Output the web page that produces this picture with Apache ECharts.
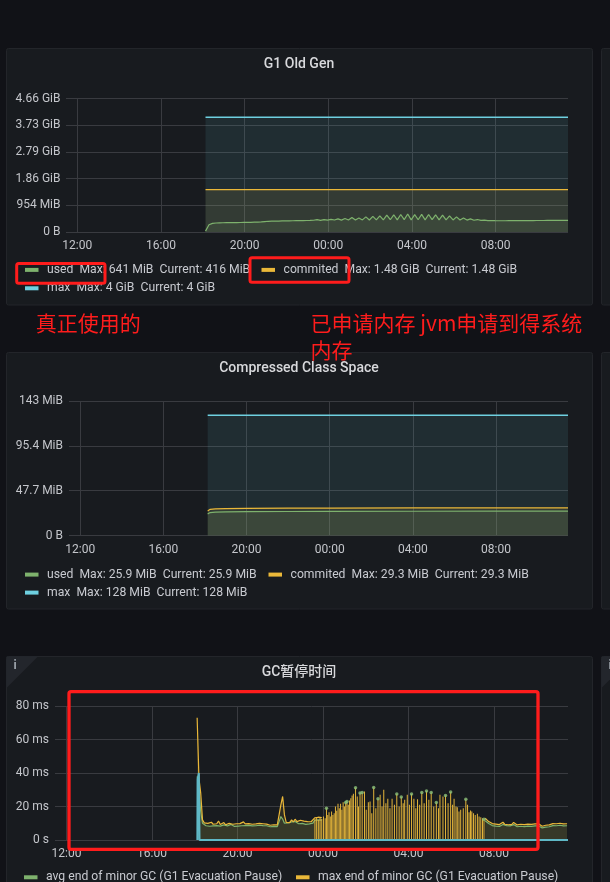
<!DOCTYPE html>
<html><head><meta charset="utf-8">
<script src="https://cdn.jsdelivr.net/npm/echarts@6/dist/echarts.min.js"></script>
<style>html,body{margin:0;padding:0;background:#111217;}#c{width:610px;height:882px;}</style>
</head><body><div id="c"></div><script>
// ================= DATA =================
// x axis: hours counted from 12:00 of the first day
const timeTickHours = [0, 4, 8, 12, 16, 20];
const timeTickLabels = ['12:00', '16:00', '20:00', '00:00', '04:00', '08:00'];
const windowStartH = -0.54, windowEndH = 23.46;

// ---- G1 Old Gen (MiB) ----
const oldGenTickLabels = ['0 B', '954 MiB', '1.86 GiB', '2.79 GiB', '3.73 GiB', '4.66 GiB'];
const oldGenUsedStartH = 6.13;          // 18:08
const oldGenUsedStepH = 1 / 6;          // 10 min
const oldGenUsedMiB = [
  30, 260, 310, 322, 327, 331,
  333, 335, 337, 338, 340, 342,
  344, 347, 350, 353, 360, 372,
  383, 386, 389, 391, 394, 397,
  400, 402, 404, 406, 408, 410,
  414, 420, 440, 418, 445, 425,
  450, 428, 470, 425, 480, 430,
  520, 428, 500, 432, 540, 430,
  560, 435, 575, 430, 600, 438,
  615, 432, 625, 440, 641, 435,
  620, 438, 630, 432, 625, 440,
  615, 436, 600, 432, 580, 430,
  540, 428, 500, 425, 470, 420,
  445, 415, 425, 408, 410, 403,
  402, 401, 402, 403, 404, 405,
  406, 406, 407, 408, 409, 410,
  410, 411, 412, 413, 414, 414,
  415, 416, 416
];
const oldGenCommittedHours = [6.13, 23.46];
const oldGenCommittedMiB = [1515.5, 1515.5];
const oldGenMaxHours = [6.13, 23.46];
const oldGenMaxMiB = [4096, 4096];
const oldGenLegend = [
  'used  Max: 641 MiB  Current: 416 MiB',
  'commited  Max: 1.48 GiB  Current: 1.48 GiB',
  'max  Max: 4 GiB  Current: 4 GiB'
];

// ---- Compressed Class Space (MiB) ----
const ccsTickLabels = ['0 B', '47.7 MiB', '95.4 MiB', '143 MiB'];
const ccsHours = [6.13, 6.25, 6.5, 7, 8, 10, 12, 16, 20, 23.46];
const ccsUsedMiB = [23.0, 24.4, 24.8, 25.1, 25.3, 25.5, 25.6, 25.8, 25.9, 25.9];
const ccsCommittedMiB = [26.0, 27.8, 28.3, 28.6, 28.9, 29.1, 29.2, 29.3, 29.3, 29.3];
const ccsMaxHours = [6.13, 23.46];
const ccsMaxMiB = [128, 128];
const ccsLegend = [
  'used  Max: 25.9 MiB  Current: 25.9 MiB',
  'commited  Max: 29.3 MiB  Current: 29.3 MiB',
  'max  Max: 128 MiB  Current: 128 MiB'
];

// ---- GC pause (ms) ----
const gcTickLabels = ['0 s', '20 ms', '40 ms', '60 ms', '80 ms'];
const gcHeadStartH = 6.11;              // 18:06
const gcStepH = 1 / 12;                 // 5 min
const gcMaxHead = [
  73, 37, 28, 12, 10.2, 9.6, 9.9, 9.1, 10.6, 9.4, 9.0,
  9.7, 11.3, 9.3, 9.8, 10.4, 9.1, 9.5, 9.9, 10.7, 9.4, 9.0, 9.7,
  9.3, 9.8, 9.5, 10.8, 9.6, 9.2, 9.8, 10.2, 9.4, 8.9, 9.6, 9.3,
  9.9, 9.2, 9.7, 9.0, 9.5, 9.8, 8.8, 9.4, 9.1, 9.6, 9.0, 9.8,
  21, 26, 15, 10.5, 11.4, 10.4, 12.0, 10.8, 12.4, 11.0, 10.6, 11.8,
  10.9, 11.3, 10.2, 11.0, 10.5, 10.9, 11.2, 13.2, 13.0, 13.6, 12.8, 13.4
];
const gcAvgHead = [
  38, 30, 17, 10, 9.0, 8.5, 8.8, 8.2, 9.2, 8.4, 8.1,
  8.6, 9.6, 8.3, 8.7, 9.0, 8.2, 8.4, 8.8, 9.3, 8.4, 8.1, 8.6,
  8.3, 8.7, 8.5, 9.4, 8.6, 8.2, 8.7, 9.0, 8.4, 8.0, 8.5, 8.3,
  8.8, 8.2, 8.6, 8.1, 8.5, 8.7, 7.9, 8.4, 8.1, 8.5, 8.0, 8.7,
  14, 12.5, 10, 9.6, 10.2, 9.5, 10.8, 9.8, 11.0, 10.0, 9.7, 10.6,
  9.9, 10.2, 9.3, 10.0, 9.6, 9.9, 10.1, 11.8, 11.5, 12.0, 11.4, 11.9
];
const gcTailStartH = 19.5833;           // 07:35
const gcMaxTail = [
  13.0, 12.2, 11.0, 10.3, 9.8,
  10.4, 9.5, 9.9, 9.2, 9.7, 10.6, 9.4, 9.8, 9.1, 9.6, 9.3, 10.5,
  9.5, 9.0, 9.7, 9.4, 9.9, 9.2, 8.6, 9.5, 9.8, 9.3, 10.4, 9.6,
  9.1, 9.7, 9.4, 8.2, 8.4, 8.8, 9.3, 9.0, 9.5, 9.8, 10.5, 9.7,
  9.4, 10.0, 9.8, 9.6, 10.3, 9.7
];
const gcAvgTail = [
  11.5, 10.6, 9.8, 9.0, 8.6,
  9.0, 8.3, 8.7, 8.1, 8.5, 9.3, 8.2, 8.6, 8.0, 8.4, 8.1, 9.2,
  8.3, 7.9, 8.5, 8.2, 8.7, 8.0, 7.5, 8.3, 8.6, 8.1, 9.1, 8.4,
  8.0, 8.5, 8.2, 7.2, 7.4, 7.7, 8.1, 7.9, 8.3, 8.6, 9.2, 8.5,
  8.2, 8.8, 8.6, 8.4, 9.0, 8.5
];
const gcSpikeHours = [
  11.62, 11.70, 11.78, 11.86, 11.94, 12.02, 12.10, 12.16, 12.22, 12.28, 12.34, 12.40,
  12.46, 12.52, 12.58, 12.64, 12.70, 12.76, 12.82, 12.88, 12.94, 13.00, 13.06, 13.12,
  13.18, 13.24, 13.30, 13.36, 13.42, 13.52, 13.60, 13.66, 13.73, 13.83, 13.94, 14.02,
  14.12, 14.20, 14.28, 14.37, 14.47, 14.57, 14.67, 14.76, 14.84, 14.94, 15.03, 15.13,
  15.23, 15.34, 15.45, 15.56, 15.66, 15.75, 15.82, 15.94, 16.04, 16.14, 16.25, 16.34,
  16.42, 16.52, 16.62, 16.73, 16.84, 16.95, 17.06, 17.18, 17.30, 17.40, 17.47, 17.61,
  17.73, 17.85, 17.97, 18.06, 18.13, 18.22, 18.28, 18.36, 18.44, 18.56, 18.68, 18.76,
  18.83, 18.90, 18.96, 19.04, 19.12, 19.22, 19.30, 19.38, 19.46, 19.53
];
const gcSpikeMax = [
  12.5, 13.5, 12, 13.8, 12.6, 14, 13, 19, 15, 16.5, 14, 17,
  15, 16, 20, 17.5, 21.6, 19, 21.6, 18, 22.6, 20, 22.4, 23,
  21, 23.6, 25, 26.5, 27.6, 31.2, 26, 20, 28, 28.4, 29, 18,
  22.5, 23, 16, 31.4, 19, 24.6, 27, 20, 30, 22, 24.6, 19,
  24.6, 21, 27.4, 20, 25.6, 22, 24, 27, 21, 27.4, 24.6, 19,
  24.4, 21, 28.4, 22, 29.2, 24, 28.4, 20, 22.4, 19, 27, 26,
  26.6, 22, 28.6, 21, 24.6, 20, 19.6, 17, 18, 19, 24.4, 21,
  16.6, 17.6, 17, 16, 15, 15.6, 14, 13.6, 13, 12.4
];
const gcAvgDotHours = [12.16, 13.06, 13.12, 13.52, 13.73, 13.83, 14.37, 14.57, 15.45, 15.66,
  16.14, 16.62, 16.84, 17.06, 17.30, 17.73, 17.97, 18.68, 19.53];
const gcAvgDotMs = [19, 22.4, 23, 31.2, 28, 28.4, 31.4, 24.6, 27.4, 25.6,
  27.4, 28.4, 29.2, 28.4, 22.4, 26.6, 28.6, 24.4, 12.4];
const gcOtherHours = [6.12, 6.13, 6.19, 6.22, 23.46];
const gcOtherMs = [0, 36, 40, 0, 0];
const gcLegend = [
  'avg end of minor GC (G1 Evacuation Pause)',
  'max end of minor GC (G1 Evacuation Pause)'
];

// ================= CHART =================
const MiB = 1048576;
const GREEN = '#7EB26D', YELLOW = '#EAB839', CYAN = '#6ED0E0';
const GRID_LINE = '#393b40', AXIS_TEXT = '#c4c6cb', LEGEND_TEXT = '#c8cad0';
const FONT = 'Roboto, "Noto Sans CJK SC", sans-serif';

function stepPairs(start, step, vals, k) { return vals.map((v, i) => [start + i * step, v * k]); }
function hourPairs(hours, vals, k) { return hours.map((h, i) => [h, vals[i] * k]); }

const grids = [
  { left: 66, top: 98.5, width: 502, height: 133.5 },
  { left: 69, top: 401, width: 499, height: 134.5 },
  { left: 55, top: 706, width: 513, height: 134 }
];
const labelMargins = [8, 8, 8];

const xAxes = grids.map((g, i) => ({
  type: 'value', gridIndex: i, min: windowStartH, max: windowEndH,
  axisLine: { show: false }, axisTick: { show: false, customValues: timeTickHours },
  axisLabel: {
    customValues: timeTickHours, margin: labelMargins[i], color: AXIS_TEXT, fontSize: 12, fontFamily: FONT,
    formatter: v => timeTickLabels[timeTickHours.indexOf(Math.round(v))]
  },
  splitLine: { show: true, lineStyle: { color: GRID_LINE, width: 1 } }
}));

function yAxis(gi, max, interval, labels, margin) {
  return {
    type: 'value', gridIndex: gi, min: 0, max: max, interval: interval,
    axisLine: { show: false }, axisTick: { show: false },
    axisLabel: { margin: margin, color: AXIS_TEXT, fontSize: 12, fontFamily: FONT,
      formatter: v => labels[Math.round(v / interval)] },
    splitLine: { show: true, lineStyle: { color: GRID_LINE, width: 1 } }
  };
}
const yAxes = [
  yAxis(0, 5e9, 1e9, oldGenTickLabels, 5.5),
  yAxis(1, 150e6, 50e6, ccsTickLabels, 6),
  yAxis(2, 80, 20, gcTickLabels, 6)
];

function line(name, idx, data, color, extra) {
  return Object.assign({
    name: name, type: 'line', xAxisIndex: idx, yAxisIndex: idx, data: data, color: color,
    showSymbol: false, symbol: 'none', lineStyle: { width: 1.2, color: color },
    areaStyle: { color: color, opacity: 0.1 }, connectNulls: false, z: 2
  }, extra || {});
}

const series = [
  line('used', 0, stepPairs(oldGenUsedStartH, oldGenUsedStepH, oldGenUsedMiB, MiB), GREEN),
  line('commited', 0, hourPairs(oldGenCommittedHours, oldGenCommittedMiB, MiB), YELLOW),
  line('max', 0, hourPairs(oldGenMaxHours, oldGenMaxMiB, MiB), CYAN, { lineStyle: { width: 1.5, color: CYAN } }),

  line('used', 1, hourPairs(ccsHours, ccsUsedMiB, MiB), GREEN),
  line('commited', 1, hourPairs(ccsHours, ccsCommittedMiB, MiB), YELLOW),
  line('max', 1, hourPairs(ccsMaxHours, ccsMaxMiB, MiB), CYAN, { lineStyle: { width: 1.5, color: CYAN } }),

  line(gcLegend[0], 2, stepPairs(gcHeadStartH, gcStepH, gcAvgHead, 1), GREEN),
  line(gcLegend[1], 2, stepPairs(gcHeadStartH, gcStepH, gcMaxHead, 1), YELLOW),
  line(gcLegend[0], 2, stepPairs(gcTailStartH, gcStepH, gcAvgTail, 1), GREEN),
  line(gcLegend[1], 2, stepPairs(gcTailStartH, gcStepH, gcMaxTail, 1), YELLOW),
  { name: gcLegend[1], type: 'bar', xAxisIndex: 2, yAxisIndex: 2, barWidth: 1, color: YELLOW,
    itemStyle: { color: '#e3b43a' }, data: hourPairs(gcSpikeHours, gcSpikeMax, 1), z: 3 },
  { name: gcLegend[0], type: 'scatter', xAxisIndex: 2, yAxisIndex: 2, symbolSize: 3.5, color: GREEN,
    itemStyle: { color: '#8cc27a' }, data: hourPairs(gcAvgDotHours, gcAvgDotMs, 1), z: 4 },
  line('other GC pause', 2, hourPairs(gcOtherHours, gcOtherMs, 1), CYAN,
    { lineStyle: { width: 2, color: '#5fb8c6' }, areaStyle: { color: CYAN, opacity: 0.25 }, z: 5 })
];

function legend(name, text, left, rowCenter) {
  return {
    data: [name], left: left, top: rowCenter - 5.5, padding: 0, orient: 'horizontal',
    icon: 'rect', itemWidth: 13.5, itemHeight: 4, selectedMode: false,
    formatter: () => text,
    textStyle: { color: LEGEND_TEXT, fontSize: 12.2, fontFamily: FONT, padding: [0, 0, 0, 3.5] }
  };
}
const legends = [
  legend('used', oldGenLegend[0], 25, 269.3),
  legend('commited', oldGenLegend[1], 261.5, 269.3),
  legend('max', oldGenLegend[2], 25, 287.7),
  legend('used', ccsLegend[0], 25, 574),
  legend('commited', ccsLegend[1], 268.5, 574),
  legend('max', ccsLegend[2], 25, 592),
  legend(gcLegend[0], gcLegend[0], 24, 876.7),
  legend(gcLegend[1], gcLegend[1], 296, 876.7)
];

const PANEL_BG = '#181b1f', PANEL_BORDER = '#23252a', RED = '#ff1c1c';
function panel(x, y, w, h) {
  return { type: 'rect', z: -5, silent: true, shape: { x: x, y: y, width: w, height: h, r: 2 },
    style: { fill: PANEL_BG, stroke: PANEL_BORDER, lineWidth: 1 } };
}
function title(text, x, y) {
  return { type: 'text', z: 10, x: x, y: y, silent: true,
    style: { text: text, fill: '#d8d9dc', font: '500 14px ' + FONT, align: 'center', verticalAlign: 'middle' } };
}
function redBox(x1, y1, x2, y2, lw) {
  return { type: 'rect', z: 100, silent: true, shape: { x: x1, y: y1, width: x2 - x1, height: y2 - y1, r: 2 },
    style: { fill: 'none', stroke: RED, lineWidth: lw } };
}
function redText(text, x, y) {
  return { type: 'text', z: 100, x: x, y: y, silent: true,
    style: { text: text, fill: RED, font: '21px "Noto Sans CJK SC", sans-serif', align: 'left', verticalAlign: 'middle' } };
}
function infoCorner(x, y) {
  return [
    { type: 'polygon', z: -4, silent: true, shape: { points: [[x, y], [x + 31.5, y], [x, y + 31.5]] },
      style: { fill: '#23262c' } },
    { type: 'text', z: -3, x: x + 8.5, y: y + 9, silent: true,
      style: { text: 'i', fill: '#9ea4ac', font: 'bold 12px ' + FONT, align: 'center', verticalAlign: 'middle' } }
  ];
}

const graphics = [
  panel(6.5, 48.5, 586, 256.5), panel(601.5, 48.5, 40, 256.5),
  panel(6.5, 352.5, 586, 256.5), panel(601.5, 352.5, 40, 256.5),
  panel(6.5, 656.5, 586, 260), panel(601.5, 656.5, 40, 260),
  ...infoCorner(6.5, 656.5), ...infoCorner(601.5, 656.5),
  title('G1 Old Gen', 299, 64.5),
  title('Compressed Class Space', 299, 368.5),
  title('GC暂停时间', 299, 672.5),
  redBox(16.7, 263.5, 105, 283.2, 3),
  redBox(250, 257.7, 349, 282.2, 3),
  redBox(69, 691.7, 538, 849.3, 3.3),
  redText('真正使用的', 35.8, 323),
  redText('已申请内存 jvm申请到得系统', 310.5, 323),
  redText('内存', 310.5, 350.5)
];

const chart = echarts.init(document.getElementById('c'), null, { renderer: 'canvas' });
chart.setOption({
  backgroundColor: '#111217',
  animation: false,
  textStyle: { fontFamily: FONT },
  grid: grids,
  xAxis: xAxes,
  yAxis: yAxes,
  legend: legends,
  graphic: { elements: graphics },
  series: series
});
</script></body></html>
